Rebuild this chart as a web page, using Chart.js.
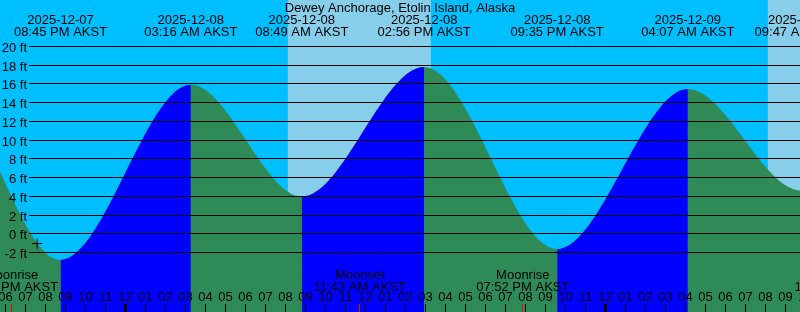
<!DOCTYPE html>
<html>
<head>
<meta charset="utf-8">
<script src="https://cdn.jsdelivr.net/npm/chart.js@4"></script>
<style>
  body { margin: 0; background: #fff; }
  #mareaChart { display: block; }
</style>
</head>
<body>
<canvas id="mareaChart" width="800" height="312"></canvas>
<script>
// Datos (pleamares y bajamares, hora AKST)
// el primero y el último quedan fuera del rango visible
const titulo = 'Dewey Anchorage, Etolin Island, Alaska';
const mareaFechas = ['2025-12-07 08:10', '2025-12-07 14:30', '2025-12-07 20:45', '2025-12-08 03:16',
                     '2025-12-08 08:49', '2025-12-08 14:56', '2025-12-08 21:35', '2025-12-09 04:07',
                     '2025-12-09 09:47', '2025-12-09 15:40'];
const mareaPies = [3.5, 17.0, -2.85, 15.85, 3.9, 17.75, -1.7, 15.4, 4.55, 17.5];

// Marca "+" sobre la curva
const marcaFecha = ['2025-12-07 19:35'];
const marcaPies = [-1.1];

// Eventos de la luna (marcas rojas abajo)
const lunaFechas = ['2025-12-07 18:18', '2025-12-08 11:43', '2025-12-08 19:52', '2025-12-09 11:45'];
const lunaNombres = ['Moonrise', 'Moonset', 'Moonrise', 'Moonset'];

// Horas de luz (amanecer, atardecer)
const diaInicio = ['2025-12-08 08:07', '2025-12-09 08:07'];
const diaFin = ['2025-12-08 15:16', '2025-12-09 15:17'];

// Marcas del eje vertical
const piesTicks = [-2, 0, 2, 4, 6, 8, 10, 12, 14, 16, 18, 20];

// Rango visible (horas desde 2025-12-08 00:00) y pies
const xMin = -6.275, xMax = 33.725;
const yMin = -8.408, yMax = 24.913;

const FUENTE = '13px "Liberation Sans", Arial, sans-serif';

function horas(stamp) {
    const [d, t] = stamp.split(' ');
    const [Y, M, D] = d.split('-').map(Number);
    const [h, m] = t.split(':').map(Number);
    return (Date.UTC(Y, M - 1, D, h, m) - Date.UTC(2025, 11, 8)) / 3600000;
}

function dos(n) {
    return String(n).padStart(2, '0');
}

function textoHora(stamp) {
    const [h, m] = stamp.split(' ')[1].split(':').map(Number);
    const h12 = h % 12 === 0 ? 12 : h % 12;
    return dos(h12) + ':' + dos(m) + (h >= 12 ? ' PM' : ' AM') + ' AKST';
}

document.addEventListener('DOMContentLoaded', function() {
    const ctx = document.getElementById('mareaChart').getContext('2d');
    const puntos = mareaFechas.map((s, i) => ({ x: horas(s), y: mareaPies[i] }));

    // Plugin para el fondo, la rejilla y los textos
    const decorado = {
        id: 'decorado',
        beforeDraw(chart) {
            const c = chart.ctx;
            const x = chart.scales.x;
            c.save();
            c.fillStyle = '#00BFFF';
            c.fillRect(0, 0, chart.width, chart.height);
            c.fillStyle = '#87CEEB';
            diaInicio.forEach((s, i) => {
                const a = x.getPixelForValue(horas(s));
                const b = x.getPixelForValue(horas(diaFin[i]));
                c.fillRect(a, 0, b - a, chart.height);
            });
            c.restore();
        },
        afterDatasetsDraw(chart) {
            const c = chart.ctx;
            const x = chart.scales.x;
            const y = chart.scales.y;
            c.save();
            c.fillStyle = '#000';
            c.strokeStyle = '#000';
            c.lineWidth = 1;
            c.font = FUENTE;
            c.textBaseline = 'alphabetic';

            // líneas horizontales y etiquetas en pies
            piesTicks.forEach(v => {
                const py = Math.round(y.getPixelForValue(v)) + 0.5;
                c.beginPath();
                c.moveTo(29, py);
                c.lineTo(chart.width, py);
                c.stroke();
                c.textAlign = 'right';
                c.fillText(v + ' ft', 27, py + 5);
            });

            // título
            c.textAlign = 'center';
            c.fillText(titulo, chart.width / 2, 12);

            // pleamares y bajamares arriba
            mareaFechas.forEach(s => {
                const px = x.getPixelForValue(horas(s));
                c.fillText(s.split(' ')[0], px, 24);
                c.fillText(textoHora(s), px, 36);
            });

            // eventos de la luna abajo
            lunaFechas.forEach((s, i) => {
                const px = x.getPixelForValue(horas(s));
                c.fillStyle = '#000';
                c.fillText(lunaNombres[i], px, 279);
                c.fillText(textoHora(s), px, 291);
                c.fillStyle = '#FF0000';
                c.fillRect(Math.floor(px), 304, 1, 8);
            });

            // horas y marcas del eje inferior
            c.fillStyle = '#000';
            for (let h = Math.ceil(xMin); h <= Math.floor(xMax) + 1; h++) {
                const px = x.getPixelForValue(h);
                const h12 = ((h % 12) + 12) % 12 || 12;
                c.fillText(dos(h12), px, 301);
                if (((h % 24) + 24) % 24 === 0) {
                    c.fillRect(Math.floor(px) - 1, 304, 3, 8);
                } else {
                    c.fillRect(Math.floor(px), 304, 1, 8);
                }
            }
            c.restore();
        }
    };

    const mareaChart = new Chart(ctx, {
        type: 'line',
        data: {
            datasets: [{
                label: 'Ahora',
                type: 'scatter',
                data: marcaFecha.map((s, i) => ({ x: horas(s), y: marcaPies[i] })),
                pointStyle: 'cross',
                pointRadius: 5,
                borderColor: '#000',
                borderWidth: 1,
                order: 1
            }, {
                // tramos de subida en azul encima del verde
                label: 'Subida',
                data: puntos,
                cubicInterpolationMode: 'monotone',
                borderWidth: 0,
                pointRadius: 0,
                fill: 'start',
                backgroundColor: 'rgba(0,0,0,0)',
                segment: {
                    backgroundColor: c => c.p1.parsed.y > c.p0.parsed.y ? '#0000FF' : 'rgba(0,0,0,0)'
                },
                order: 2
            }, {
                label: 'Marea',
                data: puntos,
                cubicInterpolationMode: 'monotone',
                borderWidth: 0,
                pointRadius: 0,
                fill: 'start',
                backgroundColor: '#2E8B57',
                order: 3
            }]
        },
        options: {
            responsive: false,
            animation: false,
            events: [],
            layout: { padding: 0, autoPadding: false },
            plugins: {
                legend: { display: false },
                tooltip: { enabled: false }
            },
            scales: {
                x: { type: 'linear', min: xMin, max: xMax, display: false },
                y: { min: yMin, max: yMax, display: false }
            }
        },
        plugins: [decorado]
    });
});
</script>
</body>
</html>
